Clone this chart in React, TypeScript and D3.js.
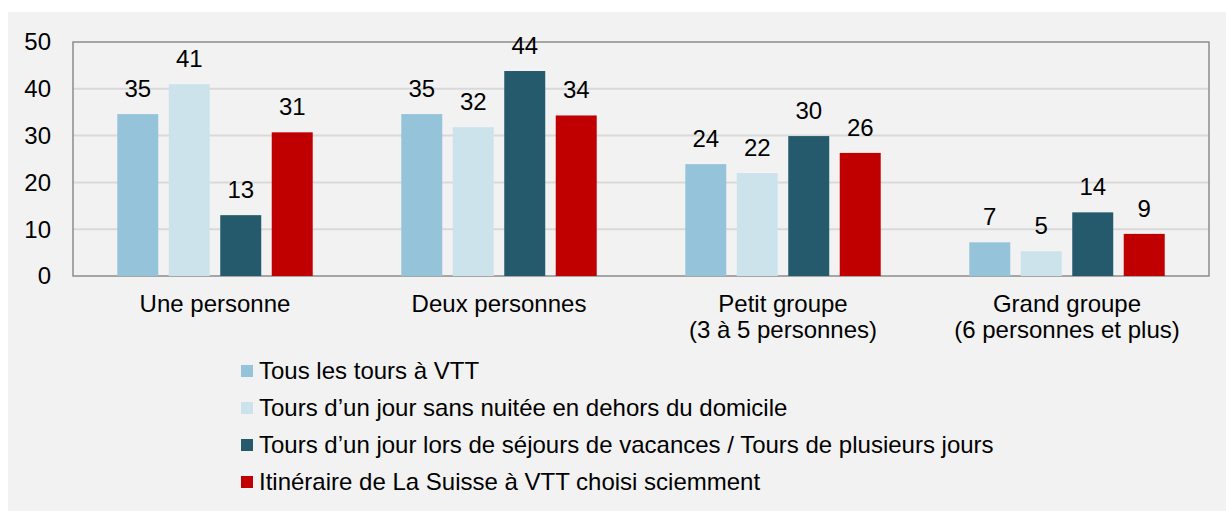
import React from "react";
import * as d3 from "d3";

const categories = [
  ["Une personne"],
  ["Deux personnes"],
  ["Petit groupe", "(3 à 5 personnes)"],
  ["Grand groupe", "(6 personnes et plus)"],
];
const seriesNames = [
  "Tous les tours à VTT",
  "Tours d’un jour sans nuitée en dehors du domicile",
  "Tours d’un jour lors de séjours de vacances / Tours de plusieurs jours",
  "Itinéraire de La Suisse à VTT choisi sciemment",
];
const colors = ["#95c4da", "#cde3ec", "#255a6c", "#c00000"];
// one array per series, one value per category
const tousLesTours = [34.6, 34.6, 23.9, 7.2];
const sansNuitee = [41.0, 31.8, 22.0, 5.3];
const sejoursVacances = [13.0, 43.8, 29.9, 13.6];
const itineraire = [30.7, 34.3, 26.3, 9.0];
const yTicks = [0, 10, 20, 30, 40, 50];

const series = [tousLesTours, sansNuitee, sejoursVacances, itineraire];

const W = 1226;
const H = 511;
const m = { top: 42, left: 73, right: 17, bottom: 235 };
const font = "'Liberation Sans', Arial, sans-serif";
const fs = 24;

const App = () => {
  const innerW = W - m.left - m.right;
  const innerH = H - m.top - m.bottom;

  const x0 = d3
    .scaleBand()
    .domain(categories.map((d, i) => String(i)))
    .range([0, innerW]);

  const x1 = d3
    .scaleBand()
    .domain(seriesNames.map((d, i) => String(i)))
    .range([0, x0.bandwidth()])
    .paddingInner(0.204)
    .paddingOuter(0.86);

  const y = d3.scaleLinear().domain([0, 50]).range([innerH, 0]);

  return (
    <svg
      width={W}
      height={H}
      style={{ position: "absolute", left: 0, top: 0 }}
      fontFamily={font}
    >
      <rect x={0} y={0} width={W} height={H} fill="#ffffff" />
      <rect x={8} y={12} width={W - 8} height={H - 12} fill="#f2f2f2" />
      <g transform={`translate(${m.left}, ${m.top})`}>
        {yTicks.map(t => (
          <g key={t}>
            {t > 0 && t < 50 && (
              <line x1={0} x2={innerW} y1={y(t)} y2={y(t)} stroke="#d9d9d9" strokeWidth={2} />
            )}
            <text
              x={-22}
              y={y(t)}
              dy="0.35em"
              textAnchor="end"
              fontSize={fs}
              fill="#000"
            >
              {t}
            </text>
          </g>
        ))}
        <rect
          x={0}
          y={0}
          width={innerW}
          height={innerH}
          fill="none"
          stroke="#8c8c8c"
          strokeWidth={1.5}
        />
        {categories.map((c, ci) => (
          <g key={ci} transform={`translate(${x0(String(ci))}, 0)`}>
            {series.map((vals, si) => (
              <g key={si}>
                <rect
                  x={x1(String(si))}
                  y={y(vals[ci])}
                  width={x1.bandwidth()}
                  height={innerH - y(vals[ci])}
                  fill={colors[si]}
                />
                <text
                  x={(x1(String(si)) as number) + x1.bandwidth() / 2}
                  y={y(vals[ci]) - 17}
                  textAnchor="middle"
                  fontSize={fs}
                  fill="#000"
                >
                  {Math.round(vals[ci])}
                </text>
              </g>
            ))}
            {c.map((line, li) => (
              <text
                key={li}
                x={x0.bandwidth() / 2}
                y={innerH + 36 + li * 26}
                textAnchor="middle"
                fontSize={fs}
                fill="#000"
              >
                {line}
              </text>
            ))}
          </g>
        ))}
      </g>
      <g transform="translate(241, 365)">
        {seriesNames.map((name, i) => (
          <g key={i} transform={`translate(0, ${i * 37})`}>
            <rect x={0} y={0} width={12} height={12} fill={colors[i]} />
            <text x={18} y={6} dy="0.35em" fontSize={fs} fill="#000">
              {name}
            </text>
          </g>
        ))}
      </g>
    </svg>
  );
};

export default App;
